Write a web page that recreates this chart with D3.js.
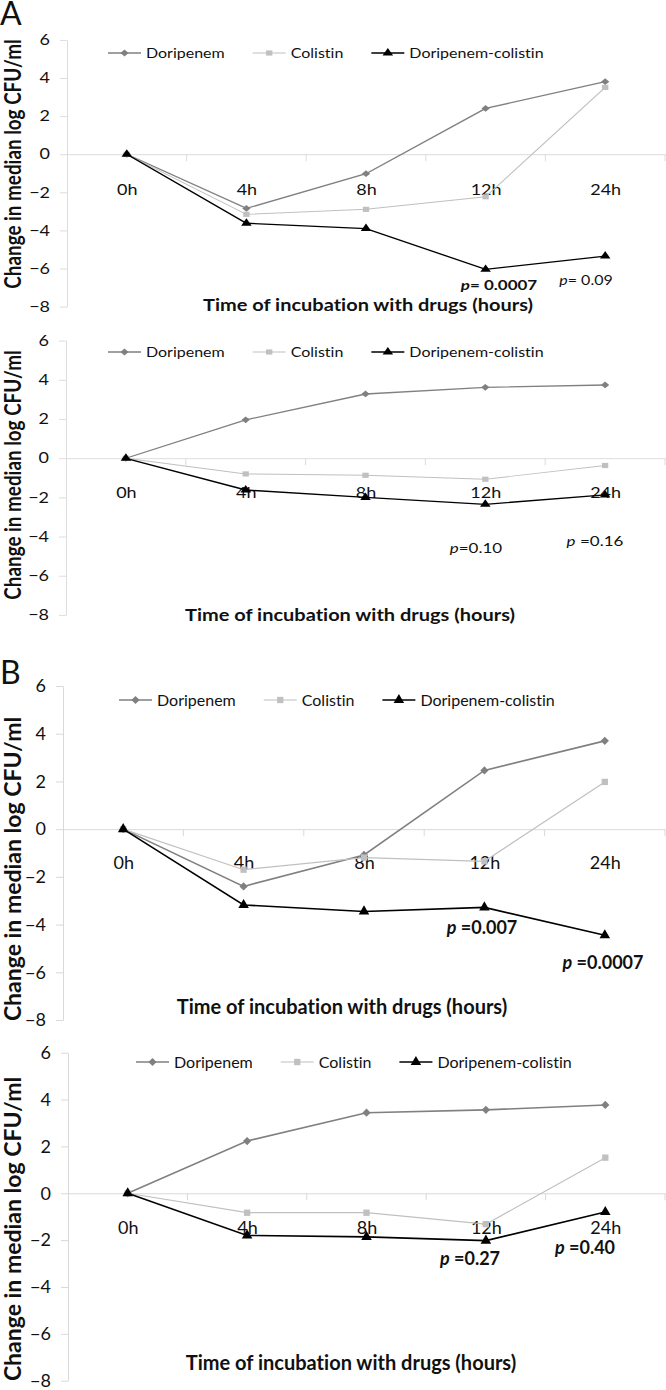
<!DOCTYPE html>
<html>
<head>
<meta charset="utf-8">
<script src="https://cdn.jsdelivr.net/npm/d3@7"></script>
<style>
  body { margin: 0; background: #fff; }
  svg { display: block; font-family: Lato, "Open Sans", sans-serif; font-variant-ligatures: none; }
</style>
</head>
<body>
<div id="chart"></div>
<script>
// Categories and ticks shared by every panel
const categories = ["0h", "4h", "8h", "12h", "24h"];
const yTicks = [-8, -6, -4, -2, 0, 2, 4, 6];
const seriesNames = ["Doripenem", "Colistin", "Doripenem-colistin"];

// Panel A, top
const a1Doripenem = [0, -2.84, -1.02, 2.41, 3.81];
const a1Colistin = [0, -3.15, -2.89, -2.23, 3.51];
const a1Combo = [0, -3.62, -3.9, -6.04, -5.34];
const a1PText = ["= 0.0007", "= 0.09"];

// Panel A, bottom
const a2Doripenem = [0, 1.96, 3.28, 3.62, 3.74];
const a2Colistin = [0, -0.8, -0.87, -1.07, -0.37];
const a2Combo = [0, -1.62, -2.0, -2.35, -1.87];
const a2PText = ["=0.10", " =0.16"];

// Panel B, top
const b1Doripenem = [0, -2.4, -1.08, 2.46, 3.7];
const b1Colistin = [0, -1.7, -1.19, -1.35, 1.98];
const b1Combo = [0, -3.18, -3.45, -3.28, -4.45];
const b1PText = [" =0.007", " =0.0007"];

// Panel B, bottom
const b2Doripenem = [0, 2.23, 3.44, 3.56, 3.77];
const b2Colistin = [0, -0.83, -0.83, -1.32, 1.52];
const b2Combo = [0, -1.8, -1.86, -2.02, -0.8];
const b2PText = [" =0.27", " =0.40"];

const width = 666, height = 1390;
const right = 665;

// look of the three series
const styles = [
    {color: "#808080", lineWidth: 1.6, symbol: "diamond", size: 34},
    {color: "#c0c0c0", lineWidth: 1.2, symbol: "square", size: 40},
    {color: "#000000", lineWidth: 1.6, symbol: "triangle", size: 48}
];

// A panels were squeezed vertically in the original figure, so sq < 1
const panels = [
    {label: "A", top: 0, sq: 0.82, left: 67, yTop: 40, yBot: 306.7, legendX: 108, legendY: 53,
        titleX: 368, titleY: 305, tickY: 190, yTitleY: 164,
        series: [a1Doripenem, a1Colistin, a1Combo],
        notes: [{x: 499, y: 285, bold: true, size: 17}, {x: 586, y: 280, bold: false, size: 16}], pText: a1PText},
    {label: null, top: 330, sq: 0.82, left: 66, yTop: 340.7, yBot: 615, legendX: 108, legendY: 352,
        titleX: 350, titleY: 615, tickY: 493, yTitleY: 475,
        series: [a2Doripenem, a2Colistin, a2Combo],
        notes: [{x: 476, y: 548, bold: false, size: 17}, {x: 595, y: 541, bold: false, size: 17}], pText: a2PText},
    {label: "B", top: 670, sq: 1, left: 63, yTop: 686, yBot: 1020, legendX: 119, legendY: 700,
        titleX: 342, titleY: 1007, tickY: 863, yTitleY: 869,
        series: [b1Doripenem, b1Colistin, b1Combo],
        notes: [{x: 482, y: 928, bold: true, size: 18}, {x: 603, y: 963, bold: true, size: 18}], pText: b1PText},
    {label: null, top: 1030, sq: 1, left: 68, yTop: 1052.7, yBot: 1380.7, legendX: 136, legendY: 1062,
        titleX: 351, titleY: 1363, tickY: 1228, yTitleY: 1229,
        series: [b2Doripenem, b2Colistin, b2Combo],
        notes: [{x: 470, y: 1259, bold: true, size: 18}, {x: 585, y: 1248, bold: true, size: 18}], pText: b2PText}
];

const svg = d3.select("#chart")
    .append("svg")
    .attr("width", width)
    .attr("height", height);

svg.append("rect").attr("width", width).attr("height", height).attr("fill", "#fff");

function markerPath(name, size) {
    if (name === "triangle") return d3.symbol(d3.symbolTriangle, size)();
    return d3.symbol(d3.symbolSquare, size)();
}

function drawMarker(g, name, size, color, x, y) {
    g.append("path")
        .attr("d", markerPath(name, size))
        .attr("fill", color)
        .attr("transform", `translate(${x},${y})` + (name === "diamond" ? " rotate(45)" : ""));
}

function drawPanel(p) {
    // local coordinate from an absolute page y
    const L = v => (v - p.top) / p.sq;

    const g = svg.append("g")
        .attr("transform", `translate(0,${p.top}) scale(1,${p.sq})`);

    const y = d3.scaleLinear().domain([-8, 6]).range([L(p.yBot), L(p.yTop)]);
    const x = d3.scalePoint().domain(categories).range([p.left, right]).padding(0.5);
    const band = d3.scaleBand().domain(categories).range([p.left, right]);

    // y axis
    const yAxis = g.append("g")
        .attr("transform", `translate(${p.left},0)`)
        .call(d3.axisLeft(y).tickValues(yTicks).tickSize(7).tickSizeOuter(0).tickPadding(10));
    yAxis.select(".domain").attr("stroke", "#d9d9d9");
    yAxis.selectAll(".tick line").attr("stroke", "#d9d9d9");
    yAxis.selectAll("text")
        .attr("font-family", "Lato, sans-serif")
        .attr("font-size", 18)
        .attr("fill", "#111");

    // category axis sits on the zero line
    const xAxis = g.append("g")
        .attr("transform", `translate(0,${y(0)})`)
        .call(d3.axisBottom(x).tickSize(0).tickSizeOuter(0));
    xAxis.select(".domain").attr("stroke", "#d9d9d9");
    xAxis.selectAll("text")
        .attr("y", L(p.tickY) - y(0))
        .attr("dy", "0.35em")
        .attr("font-family", "Lato, sans-serif")
        .attr("font-size", 18)
        .attr("fill", "#111");

    // category separator ticks
    const seps = categories.map(c => band(c) + band.bandwidth());
    g.selectAll(".sep")
        .data(seps)
        .enter()
        .append("line")
        .attr("x1", d => d).attr("x2", d => d)
        .attr("y1", y(0)).attr("y2", y(0) + 7 / p.sq)
        .attr("stroke", "#d9d9d9");

    // series
    const line = d3.line()
        .x((d, i) => x(categories[i]))
        .y(d => y(d));

    p.series.forEach(function (values, k) {
        const s = styles[k];
        g.append("path")
            .datum(values)
            .attr("d", line)
            .attr("fill", "none")
            .attr("stroke", s.color)
            .attr("stroke-width", s.lineWidth);
        values.forEach(function (v, i) {
            drawMarker(g, s.symbol, s.size, s.color, x(categories[i]), y(v));
        });
    });

    // legend
    let lx = p.legendX;
    const ly = L(p.legendY);
    seriesNames.forEach(function (name, k) {
        const s = styles[k];
        g.append("line")
            .attr("x1", lx).attr("x2", lx + 33)
            .attr("y1", ly).attr("y2", ly)
            .attr("stroke", s.color)
            .attr("stroke-width", s.lineWidth);
        drawMarker(g, s.symbol, s.size, s.color, lx + 16.5, ly);
        const t = g.append("text")
            .attr("x", lx + 38)
            .attr("y", ly)
            .attr("dy", "0.35em")
            .attr("font-size", 16)
            .attr("fill", "#111")
            .text(name);
        lx = lx + 38 + t.node().getComputedTextLength() + 28;
    });

    // axis titles
    g.append("text")
        .attr("x", p.titleX)
        .attr("y", L(p.titleY))
        .attr("dy", "0.35em")
        .attr("text-anchor", "middle")
        .attr("font-size", 20)
        .attr("font-weight", "bold")
        .attr("fill", "#111")
        .text("Time of incubation with drugs (hours)");

    g.append("text")
        .attr("transform", `translate(13,${L(p.yTitleY)}) rotate(-90)`)
        .attr("dy", "0.35em")
        .attr("text-anchor", "middle")
        .attr("font-size", 23)
        .attr("font-weight", "bold")
        .attr("fill", "#111")
        .text("Change in median log CFU/ml");

    // p values
    p.notes.forEach(function (n, i) {
        const t = g.append("text")
            .attr("x", n.x)
            .attr("y", L(n.y))
            .attr("dy", "0.35em")
            .attr("text-anchor", "middle")
            .attr("font-size", n.size)
            .attr("font-weight", n.bold ? "bold" : "normal")
            .attr("fill", "#111");
        t.append("tspan").attr("font-style", "italic").text("p");
        t.append("tspan").text(p.pText[i]);
    });

    if (p.label) {
        svg.append("text")
            .attr("x", 0)
            .attr("y", p.top + (p.label === "A" ? 25 : 14))
            .attr("font-size", 32)
            .attr("fill", "#111")
            .text(p.label);
    }
}

panels.forEach(drawPanel);
</script>
</body>
</html>
